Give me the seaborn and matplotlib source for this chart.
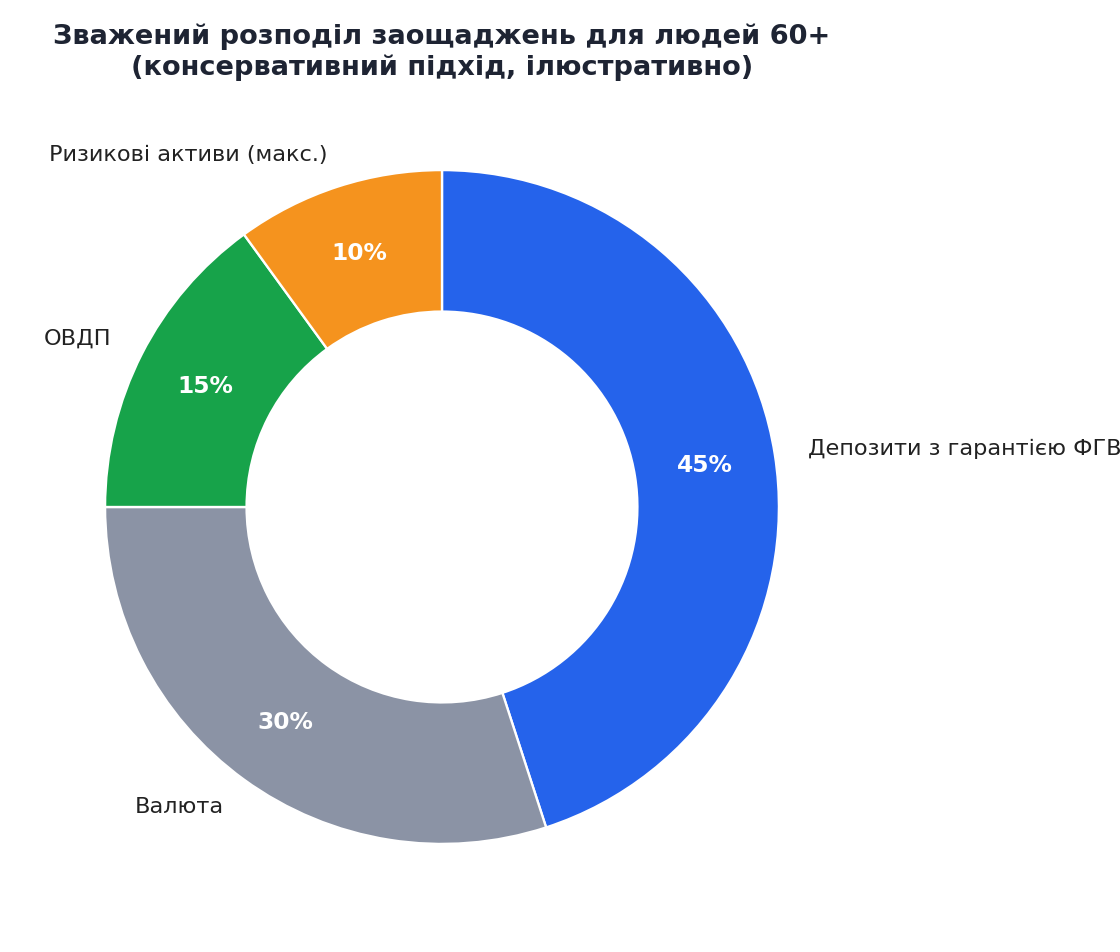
import matplotlib
matplotlib.use("Agg")
import matplotlib.pyplot as plt
import seaborn as sns

# Data
categories = ["Депозити з гарантією ФГВ", "Валюта", "ОВДП", "Ризикові активи (макс.)"]
shares = [45, 30, 15, 10]
colors = ["#2563EB", "#8B93A5", "#17A34A", "#F5931E"]

sns.set_theme(style="white")
plt.rcParams['font.family'] = ['DejaVu Sans']

fig = plt.figure(figsize=(8, 6.8), dpi=140)
# place the donut like the reference (center ~ (442, 507) px, radius ~337 px)
ax = fig.add_axes([4 / 1120, 7 / 952, 876 / 1120, 876 / 952])

wedges, texts, autotexts = ax.pie(
    shares,
    labels=categories,
    colors=colors,
    startangle=90,
    counterclock=False,
    autopct='%1.0f%%',
    pctdistance=0.79,
    labeldistance=1.1,
    wedgeprops=dict(width=0.42, edgecolor='white', linewidth=1.2),
    textprops=dict(fontsize=11.5, color='#222222'),
)
for t in autotexts:
    t.set_color('white')
    t.set_fontweight('bold')
    t.set_fontsize(12)

ax.set_xlim(-1.3, 1.3)
ax.set_ylim(-1.3, 1.3)
ax.set_aspect('equal')

fig.suptitle("Зважений розподіл заощаджень для людей 60+\n(консервативний підхід, ілюстративно)",
             x=442 / 1120, y=1 - 52 / 952, va='center', fontsize=14, fontweight='bold', color='#1E2433')

fig.savefig("out.png", dpi=140)
